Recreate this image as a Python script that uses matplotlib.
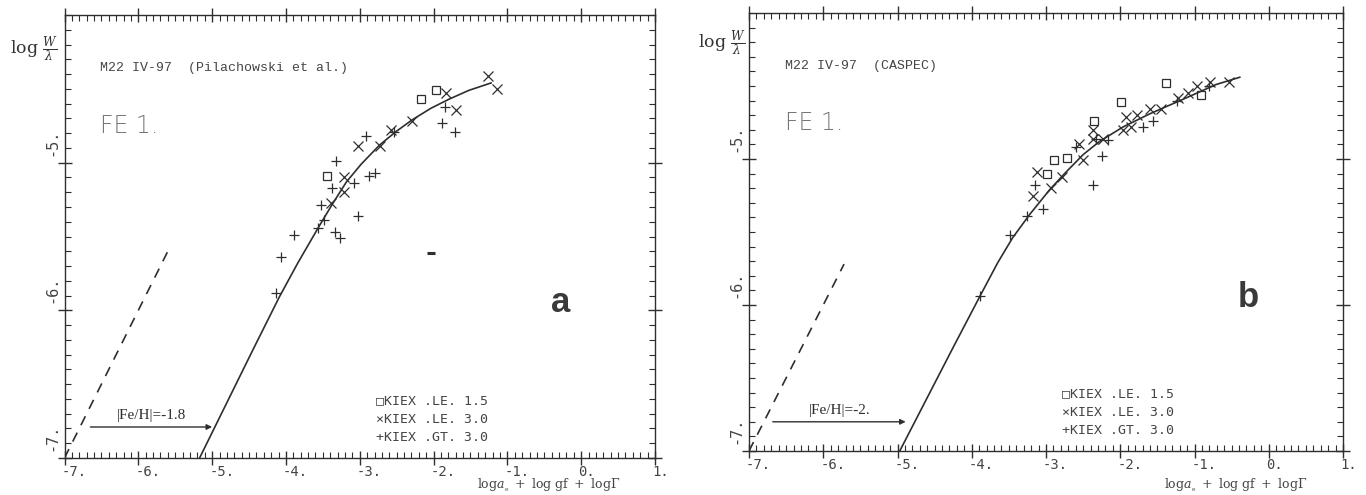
import matplotlib
matplotlib.use("Agg")
import matplotlib.pyplot as plt
from matplotlib.ticker import MultipleLocator
from matplotlib.transforms import ScaledTranslation, blended_transform_factory

plt.rcParams['mathtext.fontset'] = 'dejavuserif'

INK = '#2e2e2e'

# ---- panel a : M22 IV-97, Pilachowski et al. ----
a_curve_x = [-5.17, -4.45, -4.09, -3.84, -3.55, -3.37, -3.18, -2.98, -2.73,
             -2.51, -2.29, -2.03, -1.79, -1.52, -1.22]
a_curve_y = [-7.00, -6.27, -5.91, -5.68, -5.43, -5.28, -5.13, -5.01, -4.88,
             -4.79, -4.71, -4.63, -4.57, -4.51, -4.46]
a_dash_x = [-7.0, -5.58]
a_dash_y = [-7.0, -5.58]
a_sq_x = [-3.45, -2.17, -1.97]
a_sq_y = [-5.09, -4.57, -4.51]
a_x_x = [-1.26, -1.14, -1.83, -1.70, -2.29, -2.58, -2.72, -3.03, -3.22, -3.22, -3.39]
a_x_y = [-4.41, -4.50, -4.53, -4.64, -4.72, -4.78, -4.89, -4.89, -5.10, -5.20, -5.27]
a_pl_x = [-2.91, -3.32, -2.87, -2.79, -3.08, -3.37, -3.52, -3.49, -3.56, -3.02,
          -3.33, -3.27, -3.89, -4.07, -4.13, -1.84, -1.89, -1.71, -2.54]
a_pl_y = [-4.82, -4.99, -5.09, -5.07, -5.14, -5.17, -5.29, -5.39, -5.44, -5.36,
          -5.47, -5.51, -5.49, -5.64, -5.88, -4.62, -4.73, -4.79, -4.79]
a_stray = (-2.03, -5.61)
a_arrow = (-6.65, -5.0, -6.79)
a_feh = '|Fe/H|=-1.8'
a_title = 'M22 IV-97  (Pilachowski et al.)'

# ---- panel b : M22 IV-97, CASPEC ----
b_curve_x = [-4.97, -4.25, -3.89, -3.65, -3.45, -3.22, -2.95, -2.75, -2.50,
             -2.28, -1.96, -1.60, -1.15, -0.71, -0.39]
b_curve_y = [-7.00, -6.29, -5.94, -5.71, -5.54, -5.38, -5.21, -5.10, -4.97,
             -4.88, -4.78, -4.69, -4.59, -4.49, -4.44]
b_dash_x = [-7.0, -5.72]
b_dash_y = [-7.0, -5.72]
b_sq_x = [-1.38, -1.99, -2.36, -2.89, -2.72, -2.98, -0.91]
b_sq_y = [-4.48, -4.61, -4.74, -5.01, -4.99, -5.10, -4.56]
b_x_x = [-3.12, -3.17, -2.50, -2.55, -2.37, -2.37, -2.23, -1.96, -1.85, -1.92,
         -1.78, -1.60, -1.45, -1.22, -1.09, -0.97, -0.79, -0.53, -2.79, -2.93]
b_x_y = [-5.09, -5.25, -5.01, -4.90, -4.80, -4.86, -4.86, -4.80, -4.78, -4.71,
         -4.70, -4.66, -4.66, -4.58, -4.55, -4.50, -4.47, -4.47, -5.12, -5.20]
b_pl_x = [-3.15, -3.04, -2.37, -2.25, -2.16, -1.69, -1.56, -2.32, -3.26, -3.49,
          -3.89, -2.59, -1.24, -0.80]
b_pl_y = [-5.18, -5.34, -5.18, -4.98, -4.87, -4.78, -4.74, -4.86, -5.39, -5.52,
          -5.94, -4.92, -4.60, -4.50]
b_arrow = (-6.68, -4.89, -6.80)
b_feh = '|Fe/H|=-2.'
b_title = 'M22 IV-97  (CASPEC)'

x_ticks = [-7, -6, -5, -4, -3, -2, -1, 0, 1]
x_labels = ['-7.', '-6.', '-5.', '-4.', '-3.', '-2.', '-1.', '0.', '1.']
y_ticks = [-7, -6, -5]
y_labels = ['-7.', '-6.', '-5.']
legend_rows = ['\u25a1KIEX .LE. 1.5', '\u00d7KIEX .LE. 3.0', '+KIEX .GT. 3.0']
x_title = r'$\mathrm{log}a_{_\mathrm{e}}\ +\ \mathrm{log\ gf}\ +\ \mathrm{log}\Gamma$'

fig = plt.figure(figsize=(13.66, 4.95), dpi=100)
W, H = 1366, 495


def panel(rect, cx, cy, dx, dy, sqx, sqy, xx, xy, px, py, arrow, feh, title, tag):
    ax = fig.add_axes(rect)
    ax.set_xlim(-7, 1)
    ax.set_ylim(-7, -4)
    for s in ax.spines.values():
        s.set_color(INK)
        s.set_linewidth(1.0)

    ax.plot(cx, cy, color=INK, lw=1.2)
    ax.plot(dx, dy, color=INK, lw=1.2, ls=(0, (6, 5)))
    ax.plot(sqx, sqy, ls='none', marker='s', ms=5.5, mfc='none', mec=INK, mew=0.9)
    ax.plot(xx, xy, ls='none', marker='x', ms=6.5, mec=INK, mew=0.9)
    ax.plot(px, py, ls='none', marker='+', ms=6.5, mec=INK, mew=0.9)

    x0, x1, ya = arrow
    ax.annotate('', xy=(x1, ya), xytext=(x0, ya),
                arrowprops=dict(arrowstyle='-|>', color=INK, lw=1.0,
                                mutation_scale=8, shrinkA=0, shrinkB=0))
    ax.text((x0 + x1) / 2, ya + 0.035, feh, ha='center', va='bottom',
            family='Liberation Serif', fontsize=11, color=INK)

    ax.xaxis.set_major_locator(plt.FixedLocator(x_ticks))
    ax.xaxis.set_minor_locator(MultipleLocator(0.1))
    ax.yaxis.set_major_locator(plt.FixedLocator(y_ticks))
    ax.yaxis.set_minor_locator(MultipleLocator(0.1))
    ax.tick_params(which='major', direction='inout', length=10, width=1.0,
                   color=INK, top=True, right=True)
    ax.tick_params(which='minor', direction='in', length=4, width=0.8,
                   color=INK, top=True, right=True)
    ax.set_xticklabels(x_labels, family='DejaVu Sans Mono', fontsize=10, color='#444')
    ax.tick_params(axis='x', which='major', pad=0)
    shift = ScaledTranslation(-3 / 100, 0, fig.dpi_scale_trans)
    for lbl in ax.get_xticklabels():
        lbl.set_ha('left')
        lbl.set_transform(lbl.get_transform() + shift)
    ax.set_yticklabels([])

    # rotated y labels sitting just above their ticks
    tr = blended_transform_factory(ax.transAxes, ax.transData)
    up = ScaledTranslation(-13 / 100, 7 / 100, fig.dpi_scale_trans)
    for v, s in zip(y_ticks, y_labels):
        ax.text(0, v, s, rotation=90, ha='center', va='bottom',
                transform=tr + up, family='DejaVu Sans Mono', fontsize=11, color='#444')

    ax.text(0.060, 0.88, title, transform=ax.transAxes, ha='left', va='center',
            family='Liberation Mono', fontsize=9.5, color='#444')
    ax.text(0.060, 0.75, 'FE 1.', transform=ax.transAxes, ha='left', va='center',
            family='DejaVu Sans', fontweight='light', fontsize=17, color='#777')
    ax.text(0.84, 0.35, tag, transform=ax.transAxes, ha='center', va='center',
            family='Liberation Sans', fontweight='bold', fontsize=25, color='#3a3a3a')

    for i, row in enumerate(legend_rows):
        ax.text(0.527, 0.13 - i * 0.042, row, transform=ax.transAxes,
                ha='left', va='center', family='DejaVu Sans Mono',
                fontsize=9.5, color='#444')

    # axis title tucked under the tick labels, at the bottom edge
    x_mid = ax.get_position().x0 + 0.82 * ax.get_position().width
    fig.text(x_mid, 0.5 / H, x_title, ha='center', va='bottom', fontsize=9, color='#444')
    return ax


ax_a = panel([64.5 / W, 1 - 458 / H, 590.5 / W, 443 / H],
             a_curve_x, a_curve_y, a_dash_x, a_dash_y, a_sq_x, a_sq_y,
             a_x_x, a_x_y, a_pl_x, a_pl_y, a_arrow, a_feh, a_title, 'a')
ax_a.plot([a_stray[0]], [a_stray[1]], ls='none', marker='_', ms=6, mew=2.2, mec=INK)

ax_b = panel([749 / W, 1 - 451 / H, 594 / W, 438 / H],
             b_curve_x, b_curve_y, b_dash_x, b_dash_y, b_sq_x, b_sq_y,
             b_x_x, b_x_y, b_pl_x, b_pl_y, b_arrow, b_feh, b_title, 'b')

fig.text(10 / W, 1 - 50 / H, r'$\log\,\frac{W}{\lambda}$', fontsize=12.5,
         ha='left', va='center', color='#333')
fig.text(698 / W, 1 - 44 / H, r'$\log\,\frac{W}{\lambda}$', fontsize=12.5,
         ha='left', va='center', color='#333')

fig.savefig('out.png', dpi=100)
